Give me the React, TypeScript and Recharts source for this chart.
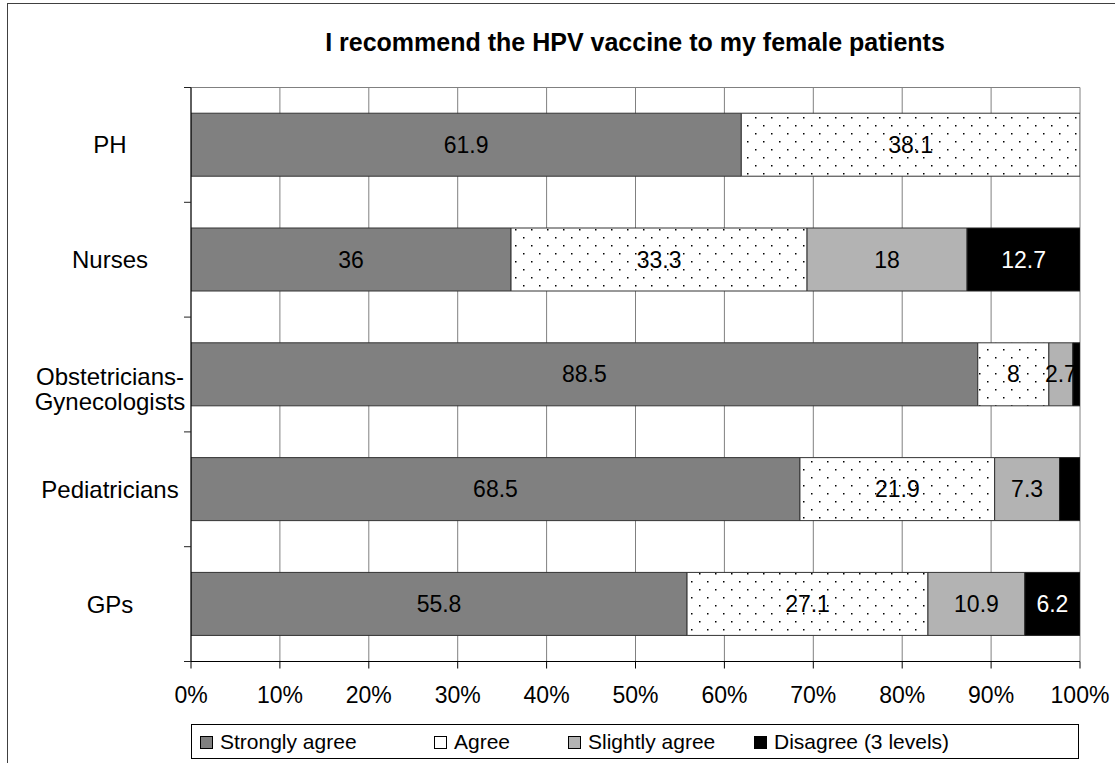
import React from "react";
import { BarChart, Bar, XAxis, YAxis, CartesianGrid, LabelList } from "recharts";

const categories = ["PH", "Nurses", "Obstetricians-Gynecologists", "Pediatricians", "GPs"];
const stronglyAgree = [61.9, 36, 88.5, 68.5, 55.8];
const agree = [38.1, 33.3, 8, 21.9, 27.1];
const slightlyAgree = [0, 18, 2.7, 7.3, 10.9];
const disagree = [0, 12.7, 0.8, 2.3, 6.2];
const xTicks = [0, 10, 20, 30, 40, 50, 60, 70, 80, 90, 100];
const seriesNames = ["Strongly agree", "Agree", "Slightly agree", "Disagree (3 levels)"];
const titleText = "I recommend the HPV vaccine to my female patients";

const data = categories.map((name, i) => ({
  name,
  strong: stronglyAgree[i],
  agree: agree[i],
  slight: slightlyAgree[i],
  disagree: disagree[i],
}));

const W = 1115;
const H = 763;
const TOP = 87.5;
const LEFT = 191;
const RIGHT = 1080;
const BOTTOM = 661.5;
const PLOT_H = BOTTOM - TOP;
const FONT = "'Liberation Sans', Arial, Helvetica, sans-serif";

const seriesFill = ["#808080", "url(#dotPattern)", "#b3b3b3", "#000000"];
const legendMarkerFill = ["#808080", "#ffffff", "#b3b3b3", "#000000"];
const legendX = [200, 434, 568, 754];

const fmt = (v: any) => {
  const n = Number(v);
  if (!isFinite(n) || n < 2.5) return "";
  return String(n);
};

const CategoryTick = (props: any) => {
  const { y, payload, index } = props;
  const band = PLOT_H / categories.length;
  const text: string = String(payload.value);
  const lines = text.includes("-") ? [text.slice(0, text.indexOf("-") + 1), text.slice(text.indexOf("-") + 1)] : [text];
  const cx = 110;
  return (
    <g>
      <line x1={184} x2={LEFT} y1={y - band / 2} y2={y - band / 2} stroke="#222" />
      {index === categories.length - 1 && (
        <line x1={184} x2={LEFT} y1={y + band / 2} y2={y + band / 2} stroke="#222" />
      )}
      <text textAnchor="middle" fontSize={24} fill="#000" fontFamily={FONT}>
        {lines.length === 1 ? (
          <tspan x={cx} y={y + 8.5}>{lines[0]}</tspan>
        ) : (
          lines.map((l, i) => (
            <tspan key={i} x={cx} y={y + 10 + i * 25}>{l}</tspan>
          ))
        )}
      </text>
    </g>
  );
};

export default function App() {
  return (
    <div style={{ position: "absolute", left: 0, top: 0, width: W, height: H, fontFamily: FONT, background: "#fff" }}>
      <svg width={W} height={H} style={{ position: "absolute", left: 0, top: 0 }}>
        <rect x={7.5} y={3.5} width={1300} height={900} fill="#fff" stroke="#404040" strokeWidth={1} />
        <text x={635} y={51} textAnchor="middle" fontSize={25} fontWeight="bold" fill="#000" fontFamily={FONT}>{titleText}</text>
        <rect x={191.5} y={724.5} width={887} height={34} fill="#fff" stroke="#000" strokeWidth={1} />
        {seriesNames.map((s, i) => (
          <g key={s}>
            <rect x={legendX[i] + 0.5} y={736.5} width={12} height={12} fill={legendMarkerFill[i]} stroke="#000" strokeWidth={1} />
            <text x={legendX[i] + 20} y={749} fontSize={21} fill="#000" fontFamily={FONT}>{s}</text>
          </g>
        ))}
      </svg>
      <div style={{ position: "absolute", left: 0, top: 0 }}>
        <BarChart
          width={W}
          height={H}
          data={data}
          layout="vertical"
          margin={{ top: TOP, right: W - RIGHT, bottom: H - BOTTOM - 40, left: 0 }}
          barCategoryGap="22.4%"
        >
          <defs>
            <pattern id="dotPattern" x={0} y={0} width={16} height={16} patternUnits="userSpaceOnUse">
              <rect x={0} y={0} width={16} height={16} fill="#ffffff" />
              <rect x={3} y={5} width={1.5} height={1.5} fill="#000" />
              <rect x={11} y={13} width={1.5} height={1.5} fill="#000" />
            </pattern>
          </defs>
          <CartesianGrid stroke="#808080" horizontalPoints={[TOP]} />
          <XAxis
            type="number"
            domain={[0, 100]}
            ticks={xTicks}
            allowDataOverflow
            tickFormatter={(v: any) => `${v}%`}
            tick={{ fontSize: 23, fill: "#000", fontFamily: FONT }}
            tickSize={7}
            tickMargin={18}
            height={40}
            axisLine={{ stroke: "#000" }}
            tickLine={{ stroke: "#000" }}
            interval={0}
          />
          <YAxis
            type="category"
            dataKey="name"
            width={LEFT}
            tick={<CategoryTick />}
            tickLine={false}
            axisLine={{ stroke: "#000" }}
            interval={0}
          />
          <Bar dataKey="strong" stackId="a" fill={seriesFill[0]} stroke="#333" strokeWidth={1} isAnimationActive={false}>
            <LabelList dataKey="strong" position="center" formatter={fmt} fill="#000" fontSize={23} fontFamily={FONT} />
          </Bar>
          <Bar dataKey="agree" stackId="a" fill={seriesFill[1]} stroke="#333" strokeWidth={1} isAnimationActive={false}>
            <LabelList dataKey="agree" position="center" formatter={fmt} fill="#000" fontSize={23} fontFamily={FONT} />
          </Bar>
          <Bar dataKey="slight" stackId="a" fill={seriesFill[2]} stroke="#333" strokeWidth={1} isAnimationActive={false}>
            <LabelList dataKey="slight" position="center" formatter={fmt} fill="#000" fontSize={23} fontFamily={FONT} />
          </Bar>
          <Bar dataKey="disagree" stackId="a" fill={seriesFill[3]} stroke="#222" strokeWidth={1} isAnimationActive={false}>
            <LabelList dataKey="disagree" position="center" formatter={fmt} fill="#fff" fontSize={23} fontFamily={FONT} />
          </Bar>
        </BarChart>
      </div>
    </div>
  );
}
